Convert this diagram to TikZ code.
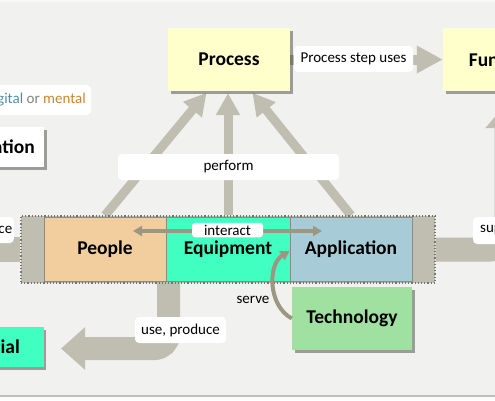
\documentclass[tikz,border=0pt]{standalone}
\usepackage{fontspec}
\setmainfont{Carlito}
\usetikzlibrary{arrows.meta,shadows,calc}
\definecolor{bgc}{RGB}{241,241,239}
\definecolor{arw}{RGB}{192,190,176}
\definecolor{darw}{RGB}{155,151,130}
\definecolor{yel}{RGB}{255,255,204}
\definecolor{peach}{RGB}{242,206,158}
\definecolor{aqua}{RGB}{64,255,192}
\definecolor{appblue}{RGB}{168,204,215}
\definecolor{techgreen}{RGB}{160,224,160}
\definecolor{digblue}{RGB}{84,141,167}
\definecolor{orgray}{RGB}{130,130,130}
\definecolor{mentorange}{RGB}{200,135,50}
\definecolor{edgegray}{RGB}{140,140,130}
\pgfdeclarelayer{back}
\pgfdeclarelayer{bg}
\pgfsetlayers{back,bg,main}
\begin{document}
\begin{tikzpicture}[x=1pt,y=-1pt,
  box/.style={inner sep=0pt, font=\bfseries\fontsize{19.5}{22}\selectfont, text=black},
  shad/.style={drop shadow={shadow xshift=2.5pt, shadow yshift=-2.5pt, opacity=0.35, fill=black}},
  inbox/.style={box, draw=edgegray, line width=0.8pt, minimum height=63.5pt},
  lbl/.style={fill=white, rounded corners=4pt, inner sep=0pt, font=\fontsize{15}{17}\selectfont},
  wide/.style={draw=arw, line width=#1},
  thinarrow/.style={draw=darw, line width=4pt},
]
\useasboundingbox (0,0) rectangle (495,400);
\clip (0,0) rectangle (495,400);
\begin{pgfonlayer}{back}
\fill[bgc] (0,0) rectangle (495,400);
\fill[white!60!bgc] (0,0) rectangle (495,1.5);
\fill[black!25] (0,394.5) rectangle (495,396.5);
\fill[white!70!bgc] (0,396.5) rectangle (495,400);
\end{pgfonlayer}

% boxes
\node[box, fill=yel, minimum width=122pt, minimum height=63pt, shad] (process) at (229,59.5) {Process};
\node[box, fill=yel, minimum width=122pt, minimum height=63pt, shad] (function) at (504,59.5) {Function};
\node[box, fill=white, minimum width=115pt, minimum height=40pt, shad] (info) at (-13.5,147) {Information};
\node[box, fill=aqua, minimum width=117pt, minimum height=40pt, shad] (material) at (-14.7,347) {Material};
\node[fill=arw, draw=black!55, dotted, line width=1.2pt, minimum width=414pt, minimum height=67pt, inner sep=0pt] (group) at (228,249.5) {};
\node[inbox, fill=peach, minimum width=122pt] (people) at (105,249.5) {People};
\node[inbox, fill=aqua, minimum width=124pt] (equipment) at (228,249.5) {Equipment};
\node[inbox, fill=appblue, minimum width=122pt] (application) at (351,249.5) {Application};
\node[box, fill=techgreen, minimum width=120pt, minimum height=63pt, shad] (technology) at (352,318.5) {Technology};
\coordinate (leftend) at (-20,249.5);

% wide connectors
\begin{pgfonlayer}{bg}
\draw[wide=9pt, -{Triangle[width=23pt,length=22pt]}, shorten >=2pt] (people.north |- group.north) -- ($(process.south west)+(40,0)$);
\draw[wide=9pt, -{Triangle[width=23pt,length=22pt]}, shorten >=2pt] (equipment.north |- group.north) -- (equipment.north |- process.south);
\draw[wide=9pt, -{Triangle[width=23pt,length=22pt]}, shorten >=2pt] (application.north |- group.north) -- ($(process.south east)+(-39,0)$);
\draw[wide=10pt, -{Triangle[width=26pt,length=26pt]}] (process.east) -- (function.west);
\draw[wide=23pt, rounded corners=14pt, -{Triangle[width=41pt,length=24pt]}] ($(group.south)+(-59.5,-8)$) |- ($(material.east)+(17,1.5)$);
\draw[wide=25pt] (leftend) -- (group.west);
\draw[wide=24pt, rounded corners=16pt, -{Triangle[width=41pt,length=25pt]}] (group.east) -| ($(function.south)+(2.5,12)$);
\end{pgfonlayer}

% thin connectors
\draw[thinarrow, {Triangle[width=10pt,length=9pt]}-{Triangle[width=10pt,length=9pt]}] ($(people.center)+(28,-18.5)$) -- ($(application.center)+(-29,-18.5)$);
\draw[thinarrow, -{Triangle[width=10pt,length=9pt]}] (technology.west) .. controls ($(technology.west)+(-24,-13)$) and ($(application.west)+(-22,15)$) .. ($(application.west)+(0,1.5)$);

% labels
\node[lbl, minimum width=119pt, minimum height=26pt] (lsteps) at (353.5,59) {Process step uses};
\node[lbl, minimum width=221pt, minimum height=26pt] (lperform) at (228.5,167) {perform};
\node[lbl, minimum width=71pt, minimum height=14.5pt, rounded corners=3pt] (linteract) at (227.5,230) {interact};
\node[font=\fontsize{15}{17}\selectfont, inner sep=0pt] (lserve) at (253,300) {serve};
\node[lbl, minimum width=91pt, minimum height=26pt] (luse) at (180.5,330) {use, produce};
\node[lbl, anchor=east, text width=36pt, align=right, inner xsep=1.5pt, minimum height=26pt] (lce) at (14,230) {ce};
\node[lbl, anchor=west, text width=40pt, align=left, inner xsep=7pt, minimum height=27pt] (lsup) at (473,230.5) {sup};
\node[lbl, anchor=east, inner xsep=5pt, minimum height=30pt] (ldig) at (91,100) {\textcolor{digblue}{digital} \textcolor{orgray}{or} \textcolor{mentorange}{mental}};
\end{tikzpicture}
\end{document}
